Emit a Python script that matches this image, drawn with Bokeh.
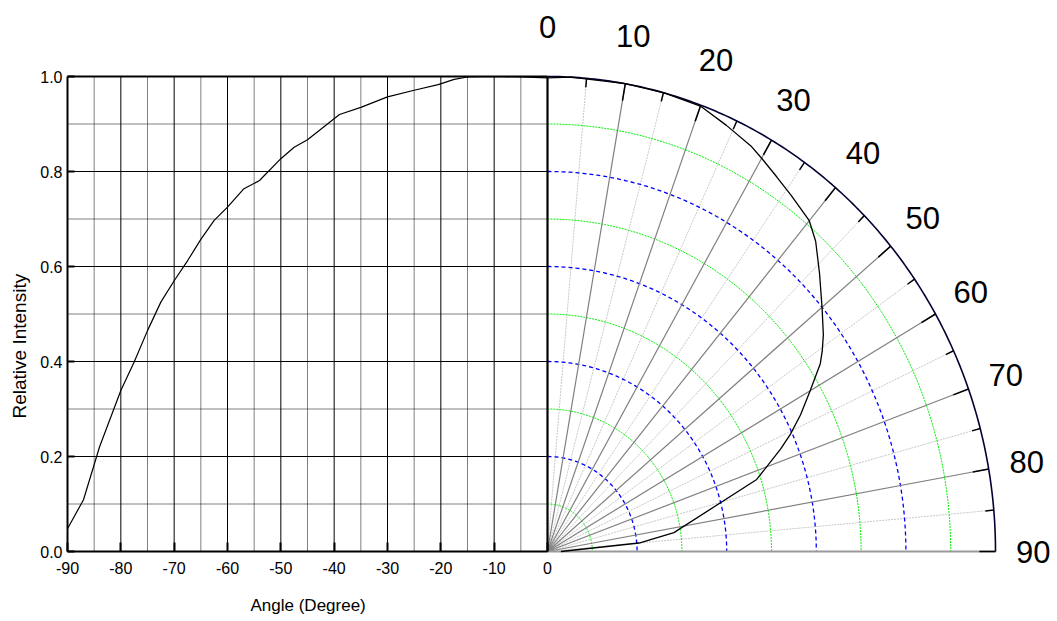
import numpy as np
from bokeh.plotting import figure
from bokeh.models import FixedTicker, PrintfTickFormatter, Range1d, Title
from bokeh.embed import file_html
from bokeh.resources import INLINE

# ---------------- data ----------------
left_angle = [-90, -87, -84, -80, -77.5, -75, -72.5, -70, -67.5, -65, -62.5, -60,
              -57, -54, -50, -47.5, -45, -39, -35, -30, -25, -20.5, -17.5, -15,
              -10, -5, 0]
left_value = [0.048, 0.109, 0.22, 0.339, 0.399, 0.465, 0.525, 0.57, 0.612, 0.657,
              0.697, 0.725, 0.763, 0.781, 0.827, 0.851, 0.867, 0.92, 0.935, 0.957,
              0.971, 0.983, 0.994, 0.999, 1.0, 0.999, 0.997]

right_angle = [0, 3, 10, 15, 20, 24, 28, 30, 33, 36, 40, 42.5, 46, 50, 53.5,
               55.5, 57, 60, 63, 65.5, 67.5, 72, 82, 85, 90]
right_value = [0.997, 1.0, 1.0, 1.0, 0.998, 0.982, 0.967, 0.956, 0.94, 0.926,
               0.909, 0.886, 0.844, 0.80, 0.766, 0.744, 0.726, 0.677, 0.634,
               0.596, 0.563, 0.491, 0.285, 0.205, 0.03]

x_ticks = [-90, -80, -70, -60, -50, -40, -30, -20, -10, 0]
y_ticks = [0.0, 0.2, 0.4, 0.6, 0.8, 1.0]
polar_ticks = [0, 10, 20, 30, 40, 50, 60, 70, 80, 90]
blue_rings = [0.2, 0.4, 0.6, 0.8]
green_rings = [0.1, 0.3, 0.5, 0.7, 0.9]

# ---------------- geometry ----------------
W, H = 1057, 621
X0_PX = 67                     # pixel column of x = -90
FRAME_LEFT_PX = 36             # frame extends left of x = -90 to hold tick labels
ZERO_Y = 551                   # pixel row of y = 0
FRAME_BOTTOM_PX = 592          # frame extends below y = 0 to hold tick labels
PX_DEG = 480.0 / 90.0          # pixels per degree on the x axis
PX_UNIT = 475.0                # pixels per 1.0 on the y axis
X_START = -90 - (X0_PX - FRAME_LEFT_PX) / PX_DEG
X_END = -90 + (W - X0_PX) / PX_DEG
Y_START = -(FRAME_BOTTOM_PX - ZERO_Y) / PX_UNIT
Y_END = ZERO_Y / PX_UNIT
XS = 448.0 / PX_DEG            # horizontal radius of polar part in x units


def pxy(r, th):
    r = np.asarray(r, dtype=float)
    t = np.radians(np.asarray(th, dtype=float))
    return r * np.sin(t) * XS, r * np.cos(t)


p = figure(width=W, height=H, x_range=Range1d(X_START, X_END),
           y_range=Range1d(Y_START, Y_END),
           output_backend="svg", toolbar_location=None,
           min_border_left=FRAME_LEFT_PX, min_border_right=0, min_border_top=0,
           min_border_bottom=H - FRAME_BOTTOM_PX)
p.outline_line_color = None
p.xgrid.visible = False
p.ygrid.visible = False
p.background_fill_color = "white"
p.border_fill_color = "white"

FONT = "Liberation Sans"

# ---------------- axes ----------------
xa = p.xaxis[0]
xa.ticker = FixedTicker(ticks=x_ticks)
xa.formatter = PrintfTickFormatter(format="%d")
xa.bounds = (-90, 0)
xa.fixed_location = 0
xa.axis_line_color = "black"
xa.axis_line_width = 2
xa.major_tick_in = 9
xa.major_tick_out = 0
xa.major_tick_line_width = 2
xa.minor_tick_line_color = None
xa.major_label_standoff = 10
xa.major_label_text_font = FONT
xa.major_label_text_font_size = "16px"
xa.major_label_text_color = "black"

ya = p.yaxis[0]
ya.ticker = FixedTicker(ticks=y_ticks)
ya.formatter = PrintfTickFormatter(format="%.1f")
ya.bounds = (0, 1)
ya.fixed_location = -90
ya.axis_line_color = "black"
ya.axis_line_width = 2
ya.major_tick_in = 7
ya.major_tick_out = 0
ya.major_tick_line_width = 2
ya.minor_tick_line_color = None
ya.major_label_standoff = 5
ya.major_label_text_font = FONT
ya.major_label_text_font_size = "16px"
ya.major_label_text_color = "black"

p.add_layout(Title(text="Angle (Degree)", align="left", offset=250 - FRAME_LEFT_PX,
                   standoff=2, text_font=FONT, text_font_size="17px",
                   text_font_style="normal", text_color="black"), "below")
p.add_layout(Title(text="Relative Intensity", align="left", offset=FRAME_BOTTOM_PX - 418,
                   standoff=12, vertical_align="middle", text_font=FONT,
                   text_font_size="19px", text_font_style="normal",
                   text_color="black"), "left")

# ---------------- cartesian grid ----------------
vx_major = [t for t in x_ticks if -90 < t < 0]
vx_minor = [t + 5 for t in x_ticks if t < 0]
hy_major = [t for t in y_ticks if 0 < t < 1]
hy_minor = [round(t + 0.1, 2) for t in y_ticks if t < 1]

p.segment(x0=vx_minor, y0=[0] * len(vx_minor), x1=vx_minor, y1=[1] * len(vx_minor),
          line_color="black", line_width=1, line_dash="1 1")
p.segment(x0=[-90] * len(hy_minor), y0=hy_minor, x1=[0] * len(hy_minor), y1=hy_minor,
          line_color="black", line_width=1, line_dash="1 1")
p.segment(x0=vx_major, y0=[0] * len(vx_major), x1=vx_major, y1=[1] * len(vx_major),
          line_color="black", line_width=1)
p.segment(x0=[-90] * len(hy_major), y0=hy_major, x1=[0] * len(hy_major), y1=hy_major,
          line_color="black", line_width=1)

# ---------------- polar grid ----------------
arc_t = np.linspace(0, 90, 181)

minor_sp = [t + 5 for t in polar_ticks if t < 90]
major_sp = [t for t in polar_ticks if 0 < t < 90]
x1, y1 = pxy(np.ones(len(minor_sp)), minor_sp)
p.segment(x0=[0] * len(minor_sp), y0=[0] * len(minor_sp), x1=x1, y1=y1,
          line_color="#c8c8c8", line_width=1, line_dash="2 1")

gx = [pxy(np.full_like(arc_t, r), arc_t)[0] for r in green_rings]
gy = [pxy(np.full_like(arc_t, r), arc_t)[1] for r in green_rings]
p.multi_line(xs=gx, ys=gy, line_color="#00ee00", line_width=1, line_dash="2 1")

bx = [pxy(np.full_like(arc_t, r), arc_t)[0] for r in blue_rings]
by = [pxy(np.full_like(arc_t, r), arc_t)[1] for r in blue_rings]
p.multi_line(xs=bx, ys=by, line_color="#0000ff", line_width=1.3, line_dash="4 3")

x1, y1 = pxy(np.ones(len(major_sp)), major_sp)
p.segment(x0=[0] * len(major_sp), y0=[0] * len(major_sp), x1=x1, y1=y1,
          line_color="#808080", line_width=1.2)

# baseline at 90 degrees
bx1, by1 = pxy([1.0], [90])
p.segment(x0=[0], y0=[0], x1=bx1, y1=[0], line_color="#999999", line_width=2)

# ticks on the outer arc
tick_t = [t for t in range(5, 91, 5)]
tick_len = [0.036 if t % 10 == 0 else 0.019 for t in tick_t]
tx0, ty0 = pxy(np.ones(len(tick_t)), tick_t)
tx1, ty1 = pxy(1 - np.array(tick_len), tick_t)
p.segment(x0=tx0, y0=ty0, x1=tx1, y1=ty1, line_color="black", line_width=1.5)

# outer arc
ox, oy = pxy(np.ones_like(arc_t), arc_t)
p.line(ox, oy, line_color="#000033", line_width=1.6)

# frame of cartesian part (top and right)
p.segment(x0=[-90], y0=[1], x1=[0], y1=[1], line_color="black", line_width=1.8)
p.segment(x0=[0], y0=[0], x1=[0], y1=[1], line_color="black", line_width=2.2)

# polar labels
lab_r = 1.105 - 0.021 * np.array(polar_ticks) / 90.0
lx, ly = pxy(lab_r, polar_ticks)
p.text(x=lx, y=ly, text=[str(t) for t in polar_ticks], text_align="center",
       text_baseline="middle", text_font_size="31px", text_color="black",
       text_font={"value": FONT})

# ---------------- curves ----------------
p.line(left_angle, left_value, line_color="black", line_width=1.2)
cx, cy = pxy(right_value, right_angle)
p.line(cx, cy, line_color="black", line_width=1.3)

open("out.html", "w").write(file_html(p, INLINE))
